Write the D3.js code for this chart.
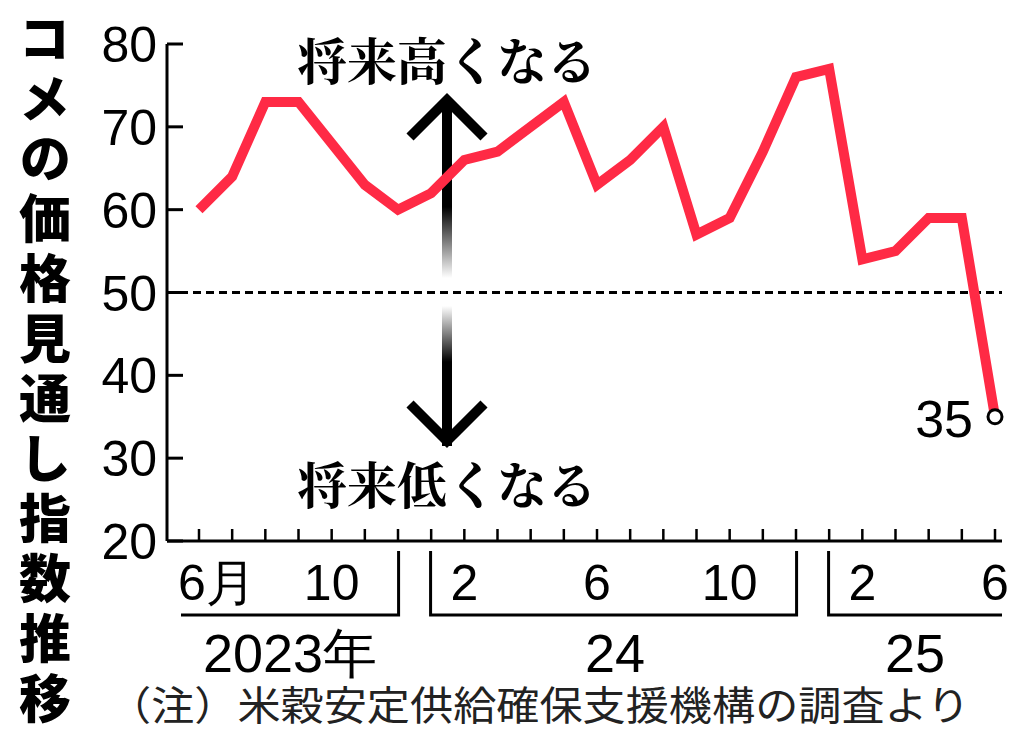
<!DOCTYPE html>
<html><head><meta charset="utf-8">
<script src="https://cdn.jsdelivr.net/npm/d3@7"></script>
<style>body{margin:0;background:#fff}</style></head>
<body><svg id="c" width="1024" height="740"></svg>
<script>
const months = ["2023-06","2023-07","2023-08","2023-09","2023-10","2023-11","2023-12","2024-01","2024-02","2024-03","2024-04","2024-05","2024-06","2024-07","2024-08","2024-09","2024-10","2024-11","2024-12","2025-01","2025-02","2025-03","2025-04","2025-05","2025-06"];
const values = [60,64,73,73,68,63,60,62,66,67,70,73,63,66,70,57,59,67,76,77,54,55,59,59,35];
const yTicks = [20,30,40,50,60,70,80];
const monthLabels = [["2023-06","6月"],["2023-10","10"],["2024-02","2"],["2024-06","6"],["2024-10","10"],["2025-02","2"],["2025-06","6"]];
const years = [["2023年","2023-06","2023-12"],["24","2024-01","2024-12"],["25","2025-01","2025-06"]];

const svg = d3.select("#c");
const x = d3.scalePoint().domain(months).range([199,995]);
const y = d3.scaleLinear().domain([20,80]).range([541,44]);
const F = "'Liberation Sans',Arial,sans-serif";
const SERIF = "'Noto Serif CJK JP','Noto Sans CJK JP',serif";

svg.append("line").attr("x1",167).attr("x2",167).attr("y1",y(80)).attr("y2",y(20)).attr("stroke","#000").attr("stroke-width",3);
yTicks.forEach(t=>{
  svg.append("line").attr("x1",167).attr("x2",183).attr("y1",y(t)).attr("y2",y(t)).attr("stroke","#000").attr("stroke-width",3);
  svg.append("text").attr("x",157).attr("y",y(t)+18).attr("text-anchor","end").attr("font-family",F).attr("font-size",50).text(t);
});
svg.append("line").attr("x1",167).attr("x2",1002).attr("y1",y(20)).attr("y2",y(20)).attr("stroke","#000").attr("stroke-width",3);
months.forEach(m=>svg.append("line").attr("x1",x(m)).attr("x2",x(m)).attr("y1",y(20)).attr("y2",y(20)-12).attr("stroke","#000").attr("stroke-width",2.5));
monthLabels.forEach(([m,l])=>svg.append("text").attr("x",x(m)+(l==="6月"?18:0)).attr("y",600).attr("text-anchor","middle").attr("font-family",F).attr("font-size",50).text(l));
const step = x.step();
years.forEach(([l,a,b],i)=>{
  const x0 = i===0 ? 181 : x(a)-step/2+16, x1 = i===2 ? 1002 : x(b)+step/2-16;
  const p = [];
  if(i>0) p.push([x0,551]);
  p.push([x0,615],[x1,615]);
  if(i<2) p.push([x1,551]);
  svg.append("path").attr("d",d3.line()(p)).attr("fill","none").attr("stroke","#000").attr("stroke-width",3);
  const cx = i===0 ? 290 : i===1 ? 615 : 915;
  svg.append("text").attr("x",cx).attr("y",672).attr("text-anchor","middle").attr("font-family",F).attr("font-size",54).text(l);
});
svg.append("line").attr("x1",167).attr("x2",1002).attr("y1",y(50)).attr("y2",y(50)).attr("stroke","#000").attr("stroke-width",3).attr("stroke-dasharray","8,5");
const defs = svg.append("defs");
const g1 = defs.append("linearGradient").attr("id","gu").attr("x1",0).attr("x2",0).attr("y1",0).attr("y2",1);
g1.append("stop").attr("offset","0.6").attr("stop-color","#000");
g1.append("stop").attr("offset","1").attr("stop-color","#fff");
const g2 = defs.append("linearGradient").attr("id","gd").attr("x1",0).attr("x2",0).attr("y1",1).attr("y2",0);
g2.append("stop").attr("offset","0.6").attr("stop-color","#000");
g2.append("stop").attr("offset","1").attr("stop-color","#fff");
const ax = 447;
svg.append("rect").attr("x",ax-5).attr("y",100).attr("width",10).attr("height",178).attr("fill","url(#gu)");
svg.append("rect").attr("x",ax-5).attr("y",306).attr("width",10).attr("height",140).attr("fill","url(#gd)");
svg.append("path").attr("d",`M${ax-37},137 L${ax},100 L${ax+37},137`).attr("fill","none").attr("stroke","#000").attr("stroke-width",10);
svg.append("path").attr("d",`M${ax-37},404 L${ax},441 L${ax+37},404`).attr("fill","none").attr("stroke","#000").attr("stroke-width",10);
svg.append("text").attr("x",ax).attr("y",80).attr("text-anchor","middle").attr("font-family",SERIF).attr("font-size",50).attr("font-weight","bold").text("将来高くなる");
svg.append("text").attr("x",ax).attr("y",504).attr("text-anchor","middle").attr("font-family",SERIF).attr("font-size",50).attr("font-weight","bold").text("将来低くなる");
svg.append("path").datum(values).attr("fill","none").attr("stroke","#ff2a45").attr("stroke-width",10).attr("stroke-linejoin","miter")
  .attr("d",d3.line().x((d,i)=>x(months[i])).y(d=>y(d)));
const last = months.length-1;
svg.append("circle").attr("cx",x(months[last])).attr("cy",y(values[last])).attr("r",7).attr("fill","#fff").attr("stroke","#000").attr("stroke-width",3);
svg.append("text").attr("x",x(months[last])-22).attr("y",y(values[last])+20).attr("text-anchor","end").attr("font-family",F).attr("font-size",52).text(values[last]);
svg.append("text").attr("x",45).attr("y",12).attr("font-family","'Noto Sans CJK JP',sans-serif").attr("font-weight","900").attr("font-size",52)
  .style("writing-mode","vertical-rl").attr("letter-spacing",8).text("コメの価格見通し指数推移");
svg.append("text").attr("x",108).attr("y",720).attr("font-family","'Noto Sans CJK JP',sans-serif").attr("font-size",40).attr("fill","#222")
  .attr("textLength",862).attr("lengthAdjust","spacingAndGlyphs").text("（注）米穀安定供給確保支援機構の調査より");
</script></body></html>
